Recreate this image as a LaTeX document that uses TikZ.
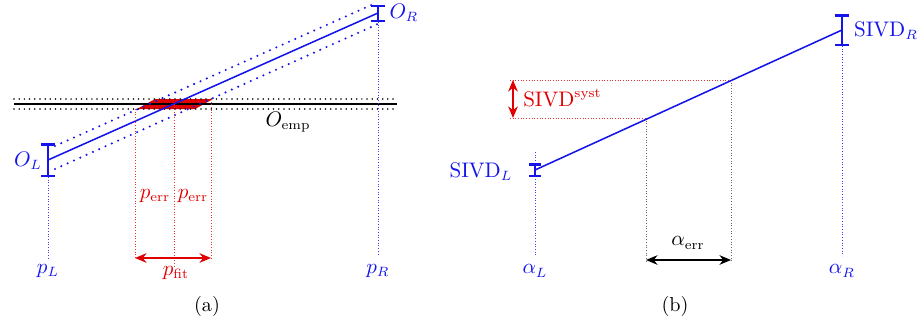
\documentclass[tikz,border=0pt]{standalone}
\usetikzlibrary{arrows.meta}
\definecolor{myblue}{RGB}{20,20,235}
\definecolor{myred}{RGB}{225,0,0}
\begin{document}
\begin{tikzpicture}[x=0.52pt,y=-0.52pt,
  mainline/.style={myblue,line width=0.8pt},
  errbar/.style={myblue,line width=1.3pt,{Bar[width=7pt]}-{Bar[width=7pt]}},
  bandline/.style={myblue,line width=1.2pt,line cap=round,dash pattern=on 0pt off 3.6pt},
  blackdots/.style={black,line width=0.9pt,line cap=round,dash pattern=on 0pt off 2.7pt},
  bluevert/.style={myblue!80,densely dotted,line width=0.4pt},
  redvert/.style={myred!80,densely dotted,line width=0.4pt},
  grayvert/.style={black!60,densely dotted,line width=0.4pt},
  redarrow/.style={myred,line width=0.8pt,{Stealth[length=6pt,width=5pt]}-{Stealth[length=6pt,width=5pt]}},
  blackarrow/.style={black,line width=0.6pt,{Stealth[length=6pt,width=5pt]}-{Stealth[length=6pt,width=5pt]}},
  lbl/.style={inner sep=1pt,font=\fontsize{10.5pt}{12pt}\selectfont}]
\useasboundingbox (0,0) rectangle (920,325);

% ---------------- panel (a)
% red overlap
\coordinate (r1) at (137,109); \coordinate (r2) at (195,109);
\coordinate (r3) at (213,99); \coordinate (r4) at (155,99);
\fill[myred] (r1) -- (r2) -- (r3) -- (r4) -- cycle;

\coordinate (hl) at (14,104); \coordinate (hr) at (397,104);
\coordinate (hlu) at (14,99); \coordinate (hru) at (397,99);
\coordinate (hld) at (14,109); \coordinate (hrd) at (397,109);
\draw[black,line width=0.9pt] (hl) -- (hr);
\draw[blackdots] (hlu) -- (hru);
\draw[blackdots] (hld) -- (hrd);

% band
\coordinate (bu1) at (55,146); \coordinate (bu2) at (376,3);
\coordinate (bd1) at (55,169); \coordinate (bd2) at (380,23);
\draw[bandline] (bu1) -- (bu2);
\draw[bandline] (bd1) -- (bd2);

% main line and bars
\coordinate (OLt) at (48,143); \coordinate (OLb) at (48,177); \coordinate (OLc) at (48,160);
\coordinate (ORt) at (378,5); \coordinate (ORb) at (378,22); \coordinate (ORc) at (378,13);
\draw[mainline] (OLc) -- (ORc);
\draw[errbar] (OLt) -- (OLb);
\draw[errbar] (ORt) -- (ORb);

\coordinate (pLe) at (48,258); \coordinate (pRe) at (378,256);
\draw[bluevert] (OLb) -- (pLe);
\draw[bluevert] (ORb) -- (pRe);

\node[lbl,myblue] (OL) at (28,161) {$O_L$};
\node[lbl,myblue] (OR) at (404,13) {$O_R$};
\node[lbl] (Oemp) at (288,122) {$O_{\mathrm{emp}}$};
\node[lbl,myblue] (pL) at (48,271) {$p_L$};
\node[lbl,myblue] (pR) at (378,271) {$p_R$};

% red verticals
\coordinate (v1t) at (135,109); \coordinate (v1b) at (135,258);
\coordinate (v2t) at (174,104); \coordinate (v2b) at (174,266);
\coordinate (v3t) at (211,99); \coordinate (v3b) at (211,258);
\draw[redvert] (v1t) -- (v1b);
\draw[redvert] (v2t) -- (v2b);
\draw[redvert] (v3t) -- (v3b);
\node[lbl,myred] (pe1) at (155,196) {$p_{\mathrm{err}}$};
\node[lbl,myred] (pe2) at (193,196) {$p_{\mathrm{err}}$};
\draw[redarrow] (v1b) -- (v3b);
\node[lbl,myred] (pfit) at (176,273) {$p_{\mathrm{fit}}$};
\node[lbl] (capa) at (207,306) {(a)};

% ---------------- panel (b)
\coordinate (SLt) at (535,163); \coordinate (SLb) at (535,177); \coordinate (SLc) at (535,170);
\coordinate (SRt) at (842,14); \coordinate (SRb) at (842,46); \coordinate (SRc) at (842,30);
\coordinate (SLv) at (535,152); \coordinate (SLe) at (535,256);
\coordinate (SRe) at (842,256);
\draw[bluevert] (SLv) -- (SLe);
\draw[bluevert] (SRb) -- (SRe);

% systematic band
\coordinate (sy1) at (510,80); \coordinate (sy2) at (731,80);
\coordinate (sy3) at (510,118); \coordinate (sy4) at (646,118);
\draw[redvert] (sy1) -- (sy2);
\draw[redvert] (sy3) -- (sy4);
\coordinate (sa1) at (513,80); \coordinate (sa2) at (513,118);
\draw[redarrow] (sa1) -- (sa2);
\node[lbl,myred,anchor=west] (syst) at (521,98) {$\mathrm{SIVD}^{\mathrm{syst}}$};

% gray verticals
\coordinate (g1b) at (646,262); \coordinate (g2b) at (731,262);
\draw[grayvert] (sy4) -- (g1b);
\draw[grayvert] (sy2) -- (g2b);
\coordinate (ae1) at (646,260); \coordinate (ae2) at (731,260);
\draw[blackarrow] (ae1) -- (ae2);
\node[lbl] (aerr) at (688,243) {$\alpha_{\mathrm{err}}$};

\draw[mainline] (SLc) -- (SRc);
\draw[errbar,{Bar[width=6pt]}-{Bar[width=6pt]}] (SLt) -- (SLb);
\draw[errbar] (SRt) -- (SRb);

\node[lbl,myblue] (SL) at (481,172) {$\mathrm{SIVD}_L$};
\node[lbl,myblue] (SR) at (886,31) {$\mathrm{SIVD}_R$};
\node[lbl,myblue] (aL) at (535,271) {$\alpha_L$};
\node[lbl,myblue] (aR) at (842,271) {$\alpha_R$};
\node[lbl] (capb) at (675,306) {(b)};
\end{tikzpicture}
\end{document}
